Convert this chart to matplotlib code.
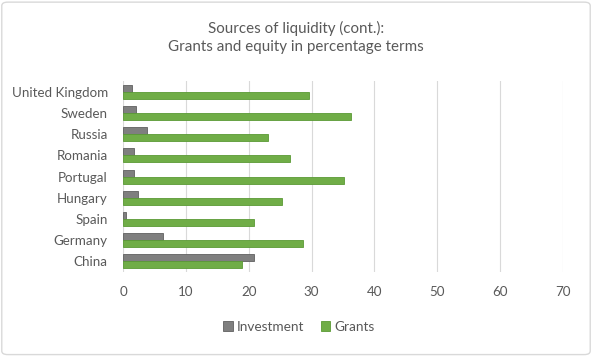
import numpy as np
import matplotlib
matplotlib.use("Agg")
import matplotlib.pyplot as plt
from matplotlib.patches import FancyBboxPatch

countries = ["China", "Germany", "Spain", "Hungary", "Portugal",
             "Romania", "Russia", "Sweden", "United Kingdom"]
investment = [20.9, 6.4, 0.5, 2.3, 1.8, 1.65, 3.8, 2.0, 1.4]
grants = [18.9, 28.7, 20.8, 25.3, 35.1, 26.6, 23.0, 36.3, 29.5]

plt.rcParams["font.family"] = ["Lato", "DejaVu Sans"]
txt = "#595959"

fig = plt.figure(figsize=(5.92, 3.56), dpi=100)
ax = fig.add_axes([0.208, 0.236, 0.743, 0.536])

y = np.arange(len(countries))
h = 0.33
ax.barh(y + h / 2, investment, height=h, color="#7f7f7f", edgecolor="#606060",
        linewidth=0.6, label="Investment")
ax.barh(y - h / 2, grants, height=h, color="#70ad47", edgecolor="#5a9a35",
        linewidth=0.6, label="Grants")

ax.set_xlim(0, 70)
ax.set_ylim(-0.5, len(countries) - 0.5)
ax.set_xticks(range(0, 71, 10))
ax.set_yticks(y)
ax.set_yticklabels(countries)
ax.grid(axis="x", color="#d9d9d9", linewidth=0.8)
ax.set_axisbelow(True)
for s in ax.spines.values():
    s.set_visible(False)
ax.tick_params(axis="both", length=0, colors=txt, labelsize=9.6)
ax.tick_params(axis="x", pad=10)
ax.tick_params(axis="y", pad=11)

fig.text(0.5, 1 - 37.5 / 356,
         "Sources of liquidity (cont.):\nGrants and equity in percentage terms",
         ha="center", va="center", color=txt, fontsize=10.9, linespacing=1.3)

fig.legend(loc="center", bbox_to_anchor=(0.505, 1 - 327 / 356), ncol=2, frameon=False,
           fontsize=9.8, labelcolor=txt, handlelength=0.7, handleheight=0.7,
           handletextpad=0.3, columnspacing=1.2)

fig.patches.append(FancyBboxPatch((0.003, 0.004), 0.994, 0.99,
                                  boxstyle="round,pad=0,rounding_size=0.01",
                                  transform=fig.transFigure, fill=False,
                                  edgecolor="#d9d9d9", linewidth=1))

fig.savefig("out.png", dpi=100)
